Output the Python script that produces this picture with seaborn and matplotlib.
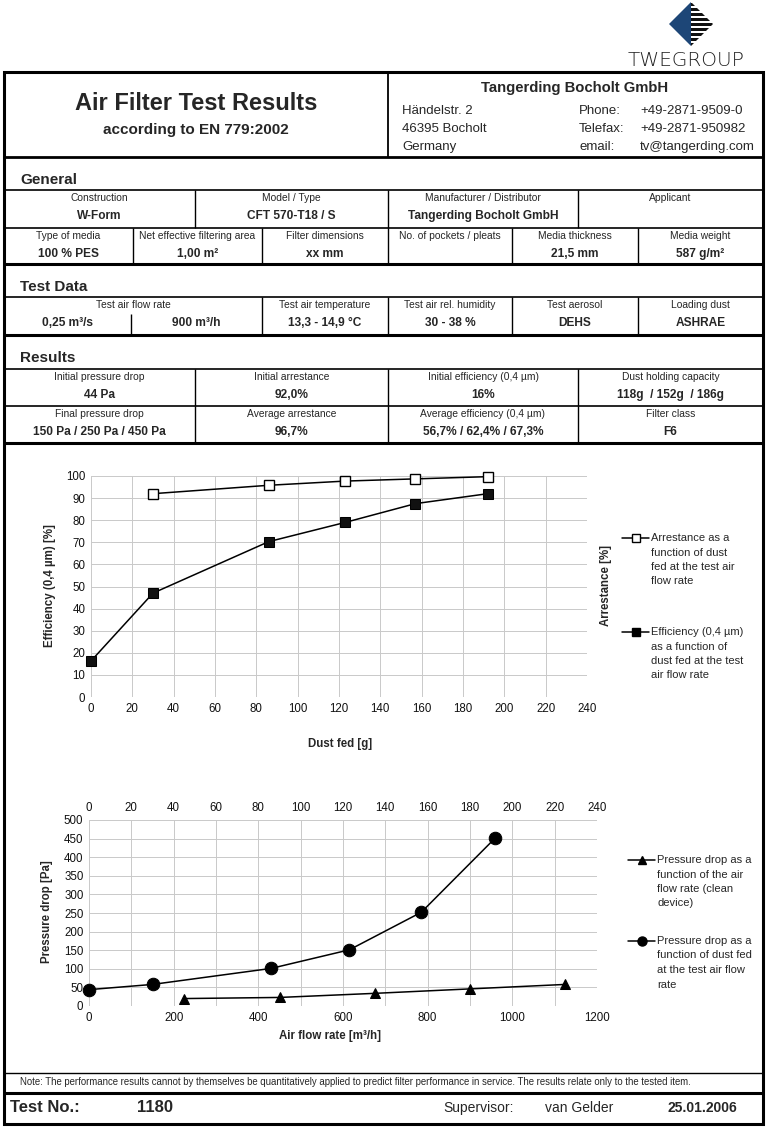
import matplotlib
matplotlib.use("Agg")
import matplotlib.pyplot as plt
import matplotlib.font_manager as fm
from matplotlib.patches import Polygon, Rectangle
import numpy as np
import pandas as pd
import seaborn as sns

# ---- chart data ----
dust_arr = [30, 86, 123, 157, 192]
arrestance = [92.0, 95.8, 97.7, 98.7, 99.7]
dust_eff = [0, 30, 86, 123, 157, 192]
efficiency = [16.3, 47.0, 70.3, 79.0, 87.5, 92.0]

flow_clean = [225, 450, 675, 900, 1125]
dp_clean = [20, 23, 34, 46, 58]
dust_dp = [0, 30, 86, 123, 157, 192]
dp_dust = [44, 58, 101, 151, 252, 452]

# ---- form texts ----
general_row1 = [("Construction", "W-Form"), ("Model / Type", "CFT 570-T18 / S"),
                ("Manufacturer / Distributor", "Tangerding Bocholt GmbH"), ("Applicant", "")]
general_row2 = [("Type of media", "100 % PES"), ("Net effective filtering area", "1,00 m²"),
                ("Filter dimensions", "xx mm"), ("No. of pockets / pleats", ""),
                ("Media thickness", "21,5 mm"), ("Media weight", "587 g/m²")]
testdata_row = [("Test air temperature", "13,3 - 14,9 °C"), ("Test air rel. humidity", "30 - 38 %"),
                ("Test aerosol", "DEHS"), ("Loading dust", "ASHRAE")]
results_row1 = [("Initial pressure drop", "44 Pa"), ("Initial arrestance", "92,0%"),
                ("Initial efficiency (0,4 µm)", "16%"), ("Dust holding capacity", "118g  / 152g  / 186g")]
results_row2 = [("Final pressure drop", "150 Pa / 250 Pa / 450 Pa"), ("Average arrestance", "96,7%"),
                ("Average efficiency (0,4 µm)", "56,7% / 62,4% / 67,3%"), ("Filter class", "F6")]

sns.set_theme(style="white")
names = {f.name for f in fm.fontManager.ttflist}
narrow = "Liberation Sans Narrow" if "Liberation Sans Narrow" in names else "Liberation Sans"
plt.rcParams["font.family"] = ["Liberation Sans", "DejaVu Sans"]

W, H = 770, 1128
fig = plt.figure(figsize=(W / 100, H / 100), dpi=100)
bg = fig.add_axes([0, 0, 1, 1])
bg.set_xlim(0, W)
bg.set_ylim(H, 0)
bg.axis("off")

LAB, VAL = 7.4, 8.6

def hline(y, x0=3, x1=763, lw=1.2):
    bg.plot([x0, x1], [y, y], color="black", lw=lw, solid_capstyle="butt")

def vline(x, y0, y1, lw=1.0):
    bg.plot([x, x], [y0, y1], color="black", lw=lw, solid_capstyle="butt")

def cells(edges, items, ytop, ybot):
    for i, (lab, val) in enumerate(items):
        xc = (edges[i] + edges[i + 1]) / 2
        bg.text(xc, ytop + 8, lab, ha="center", va="center", fontsize=LAB, family=narrow)
        if val:
            bg.text(xc, ytop + 26, val, ha="center", va="center", fontsize=VAL,
                    family=narrow, weight="bold")
    for x in edges[1:-1]:
        vline(x, ytop, ybot)

# ---- logo ----
bg.add_patch(Polygon([(669, 24), (691, 2), (691, 46)], closed=True, color="#1d4677", lw=0))
tri = Polygon([(691, 2), (713, 24), (691, 46)], closed=True, fc="white", ec="none")
bg.add_patch(tri)
for k in range(9):
    r = Rectangle((691, 3 + k * 5), 23, 2.8, color="#111111", lw=0)
    bg.add_patch(r)
    r.set_clip_path(tri)
bg.text(686, 60, "TWEGROUP", ha="center", va="center", fontsize=14.5, color="#222222",
        family="DejaVu Sans", weight="light")

# ---- frame ----
bg.add_patch(Rectangle((4, 72), 759, 1052, fill=False, ec="black", lw=2.2))
hline(157, lw=2.0)
vline(388, 72, 157, lw=1.3)

bg.text(196, 104, "Air Filter Test Results", ha="center", va="center", fontsize=17,
        family=narrow, weight="bold")
bg.text(196, 130, "according to EN 779:2002", ha="center", va="center", fontsize=11,
        family=narrow, weight="bold")
bg.text(575, 88, "Tangerding Bocholt GmbH", ha="center", va="center", fontsize=10.7,
        family=narrow, weight="bold")
for i, (a, b, c) in enumerate([("Händelstr. 2", "Phone:", "+49-2871-9509-0"),
                               ("46395 Bocholt", "Telefax:", "+49-2871-950982"),
                               ("Germany", "email:", "tv@tangerding.com")]):
    y = 111 + i * 18
    bg.text(402, y, a, va="center", fontsize=9.5, family=narrow)
    bg.text(579, y, b, va="center", fontsize=9.5, family=narrow)
    bg.text(640, y, c, va="center", fontsize=9.5, family=narrow)

# ---- General ----
bg.text(20, 180, "General", va="center", fontsize=11, family=narrow, weight="bold")
hline(190)
cells([3, 195, 388, 578, 763], general_row1, 190, 228)
hline(228)
cells([3, 133, 262, 388, 512, 638, 763], general_row2, 228, 264)
hline(264, lw=2.2)

# ---- Test Data ----
bg.text(20, 287, "Test Data", va="center", fontsize=11, family=narrow, weight="bold")
hline(297)
bg.text(133, 305, "Test air flow rate", ha="center", va="center", fontsize=LAB, family=narrow)
bg.text(67, 323, "0,25 m³/s", ha="center", va="center", fontsize=VAL, family=narrow, weight="bold")
bg.text(196, 323, "900 m³/h", ha="center", va="center", fontsize=VAL, family=narrow, weight="bold")
vline(131, 314, 334)
cells([262, 388, 512, 638, 763], testdata_row, 297, 334)
vline(262, 297, 334)
hline(335, lw=2.2)

# ---- Results ----
bg.text(20, 358, "Results", va="center", fontsize=11, family=narrow, weight="bold")
hline(369)
cells([3, 195, 388, 578, 763], results_row1, 369, 406)
hline(406)
cells([3, 195, 388, 578, 763], results_row2, 406, 443)
hline(443, lw=2.2)

# ---- footer ----
hline(1073, lw=1.0)
bg.text(20, 1082, "Note: The performance results cannot by themselves be quantitatively applied to "
        "predict filter performance in service. The results relate only to the tested item.",
        va="center", fontsize=6.9, family=narrow)
hline(1093, lw=2.2)
bg.text(10, 1108, "Test No.:", va="center", fontsize=12, family=narrow, weight="bold")
bg.text(137, 1108, "1180", va="center", fontsize=12, family=narrow, weight="bold")
bg.text(443, 1108, "Supervisor:", va="center", fontsize=10, family=narrow)
bg.text(545, 1108, "van Gelder", va="center", fontsize=10, family=narrow)
bg.text(668, 1108, "25.01.2006", va="center", fontsize=10, family=narrow, weight="bold")

grid_kw = dict(color="#c9c9c9", lw=0.7)

def style(ax):
    for s in ax.spines.values():
        s.set_visible(False)
    ax.grid(True, **grid_kw)
    ax.tick_params(which="both", length=0, labelsize=8.3, pad=4, colors="#111111")
    ax.set_xlabel("")
    ax.set_ylabel("")

# ---- chart 1: efficiency / arrestance vs dust fed ----
ax1 = fig.add_axes([91 / W, 1 - 697 / H, 496 / W, 221 / H])
sns.lineplot(x=dust_arr, y=arrestance, ax=ax1, color="black", lw=1.1, marker="s",
             markersize=7.5, markerfacecolor="white", markeredgecolor="black", markeredgewidth=1)
sns.lineplot(x=dust_eff, y=efficiency, ax=ax1, color="black", lw=1.1, marker="s",
             markersize=7.5, markerfacecolor="#111111", markeredgecolor="black")
ax1.set_xlim(0, 240)
ax1.set_ylim(0, 100)
ax1.set_xticks(range(0, 241, 20))
ax1.set_yticks(range(0, 101, 10))
style(ax1)
for ln in ax1.lines:
    ln.set_clip_on(False)
bg.text(340, 744, "Dust fed [g]", ha="center", va="center", fontsize=8.3, weight="bold")
bg.text(50, 586, "Efficiency (0,4 µm) [%]", ha="center", va="center", rotation=90,
        fontsize=8.3, weight="bold")
bg.text(606, 585, "Arrestance [%]", ha="center", va="center", rotation=90,
        fontsize=8.3, weight="bold")

# ---- chart 2: pressure drop ----
ax2 = fig.add_axes([89 / W, 1 - 1006 / H, 508 / W, 186 / H])
sns.lineplot(x=flow_clean, y=dp_clean, ax=ax2, color="black", lw=1.1, marker="^",
             markersize=7, markerfacecolor="black", markeredgecolor="black")
ax2.set_xlim(0, 1200)
ax2.set_ylim(0, 500)
ax2.set_xticks(range(0, 1201, 200))
ax2.set_xticks(range(100, 1200, 200), minor=True)
ax2.set_yticks(range(0, 501, 50))
style(ax2)
ax2.grid(True, which="minor", axis="x", **grid_kw)
ax2t = ax2.twiny()
sns.lineplot(x=dust_dp, y=dp_dust, ax=ax2t, color="black", lw=1.1, marker="o",
             markersize=9, markerfacecolor="black", markeredgecolor="black")
ax2t.set_xlim(0, 240)
ax2t.set_xticks(range(0, 241, 20))
for s in ax2t.spines.values():
    s.set_visible(False)
ax2t.tick_params(which="both", length=0, labelsize=8.3, pad=4, colors="#111111")
ax2t.set_xlabel("")
ax2t.set_ylabel("")
ax2t.grid(False)
for a in (ax2, ax2t):
    for ln in a.lines:
        ln.set_clip_on(False)
bg.text(330, 1036, "Air flow rate [m³/h]", ha="center", va="center", fontsize=8.3, weight="bold")
bg.text(47, 912, "Pressure drop [Pa]", ha="center", va="center", rotation=90,
        fontsize=8.3, weight="bold")

# ---- legends (drawn beside the charts) ----
def legend_entry(x, y, marker, fc, ms, lines):
    bg.plot([x, x + 27], [y, y], color="black", lw=1.1)
    bg.plot([x + 13.5], [y], marker=marker, ms=ms, mfc=fc, mec="black", mew=1, color="black")
    for i, t in enumerate(lines):
        bg.text(x + 29, y + i * 14.5, t, va="center", fontsize=8)

legend_entry(622, 538, "s", "white", 6, ["Arrestance as a", "function of dust",
                                           "fed at the test air", "flow rate"])
legend_entry(622, 632, "s", "black", 6, ["Efficiency (0,4 µm)", "as a function of",
                                           "dust fed at the test", "air flow rate"])
legend_entry(628, 860, "^", "black", 6, ["Pressure drop as a", "function of the air",
                                           "flow rate (clean", "device)"])
legend_entry(628, 941, "o", "black", 6.5, ["Pressure drop as a", "function of dust fed",
                                             "at the test air flow", "rate"])

fig.savefig("out.png", dpi=100)
